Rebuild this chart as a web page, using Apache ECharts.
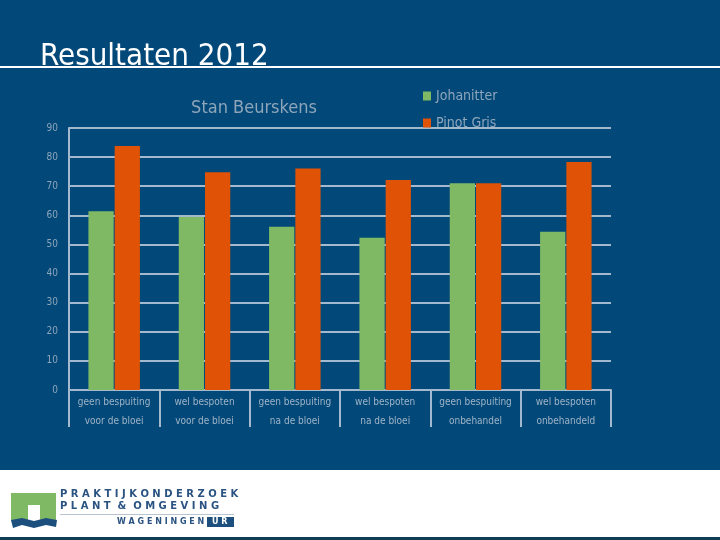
<!DOCTYPE html>
<html>
<head>
<meta charset="utf-8">
<script src="https://cdn.jsdelivr.net/npm/echarts@6/dist/echarts.min.js"></script>
<style>
  html, body { margin: 0; padding: 0; background: #02497a; }
  #main { width: 720px; height: 540px; }
</style>
</head>
<body>
<div id="main"></div>
<script>
// data
const categories = [
  'geen bespuiting\nvoor de bloei',
  'wel bespoten\nvoor de bloei',
  'geen bespuiting\nna de bloei',
  'wel bespoten\nna de bloei',
  'geen bespuiting\nonbehandel',
  'wel bespoten\nonbehandeld'
];
const seriesNames = ['Johanitter', 'Pinot Gris'];
const johanitter = [61.4, 59.4, 56.1, 52.3, 71.0, 54.4];
const pinotGris = [83.8, 74.8, 76.1, 72.1, 71.0, 78.3];
const yMin = 0, yMax = 90, yStep = 10;

const narrow = '"Liberation Sans Narrow", "DejaVu Sans Condensed", sans-serif';
const grey = '#8ea5ba';
const gridCol = '#a3b9cd';

let chart = echarts.init(document.getElementById('main'));
chart.setOption({
  backgroundColor: '#02497a',
  animation: false,
  title: [
    {
      text: 'Resultaten 2012',
      left: 35, top: 36,
      textStyle: { color: '#ffffff', fontFamily: narrow, fontWeight: 'normal', fontSize: 31 }
    },
    {
      text: 'Stan Beurskens',
      left: 249, top: 94, textAlign: 'center',
      textStyle: { color: grey, fontFamily: narrow, fontWeight: 'normal', fontSize: 18 }
    }
  ],
  legend: {
    data: seriesNames,
    orient: 'vertical',
    left: 418, top: 84,
    itemWidth: 8, itemHeight: 9, itemGap: 13,
    icon: 'rect',
    textStyle: { color: grey, fontFamily: narrow, fontSize: 14 }
  },
  grid: { left: 69, right: 109, top: 128, bottom: 150 },
  xAxis: {
    type: 'category',
    data: categories,
    axisLine: { lineStyle: { color: gridCol, width: 2 } },
    axisTick: { show: true, length: 37, lineStyle: { color: gridCol, width: 2 } },
    axisLabel: {
      color: '#9fb3c6', fontFamily: narrow, fontSize: 10, lineHeight: 19, margin: 3, interval: 0
    }
  },
  yAxis: {
    type: 'value',
    min: yMin, max: yMax, interval: yStep,
    axisLine: { show: true, lineStyle: { color: gridCol, width: 2 } },
    axisTick: { show: false },
    splitLine: { lineStyle: { color: gridCol, width: 2 } },
    axisLabel: { color: grey, fontFamily: narrow, fontSize: 10, margin: 11 }
  },
  series: [
    {
      name: seriesNames[0], type: 'bar', data: johanitter,
      itemStyle: { color: '#80b964' },
      barGap: '4%', barCategoryGap: '43%'
    },
    {
      name: seriesNames[1], type: 'bar', data: pinotGris,
      itemStyle: { color: '#e05206' },
      barGap: '4%', barCategoryGap: '43%'
    }
  ],
  graphic: [
    // white rule under the slide title
    { type: 'rect', shape: { x: 0, y: 66, width: 720, height: 2 }, style: { fill: '#ffffff' }, z: 10 },
    // footer band with logo
    { type: 'rect', shape: { x: 0, y: 470, width: 720, height: 70 }, style: { fill: '#ffffff' } },
    { type: 'rect', shape: { x: 0, y: 537, width: 720, height: 3 }, style: { fill: '#0f3d52' } },
    { type: 'polygon', shape: { points: [[11, 493], [56, 493], [56, 521], [40, 521], [40, 505], [28, 505], [28, 521], [11, 521]] }, style: { fill: '#80b964' } },
    { type: 'polygon', shape: { points: [[11, 520], [22, 518], [34, 521], [46, 518], [57, 520], [56, 527], [46, 525], [34, 528], [22, 525], [13, 528]] }, style: { fill: '#1c4f7d' } },
    { type: 'text', left: 60, top: 489, style: { text: 'P R A K T I J K O N D E R Z O E K', fill: '#2a5382', font: 'bold 10px "DejaVu Sans", sans-serif' } },
    { type: 'text', left: 60, top: 501, style: { text: 'P L A N T  &  O M G E V I N G', fill: '#2a5382', font: 'bold 10px "DejaVu Sans", sans-serif' } },
    { type: 'rect', shape: { x: 60, y: 514, width: 174, height: 1 }, style: { fill: '#b8c4d0' } },
    { type: 'text', left: 117, top: 518, style: { text: 'W A G E N I N G E N', fill: '#2a5382', font: 'bold 8px "DejaVu Sans", sans-serif' } },
    { type: 'rect', shape: { x: 207, y: 517, width: 27, height: 10 }, style: { fill: '#1c4f7d' } },
    { type: 'text', left: 212, top: 518, style: { text: 'U R', fill: '#ffffff', font: 'bold 8px "DejaVu Sans", sans-serif' } }
  ]
});
</script>
</body>
</html>
